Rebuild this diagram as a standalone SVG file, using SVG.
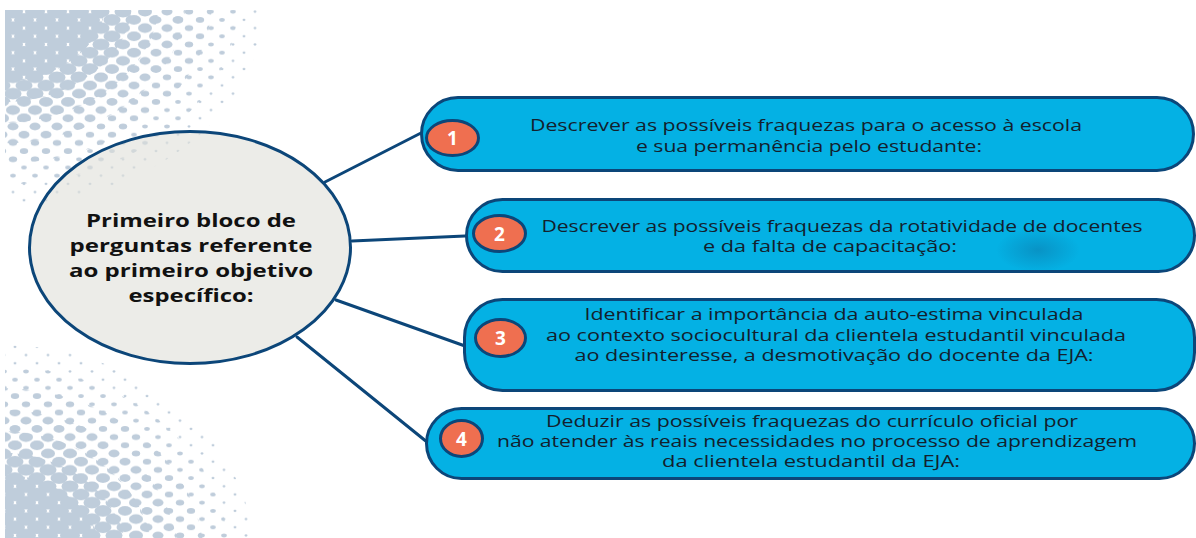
<svg xmlns="http://www.w3.org/2000/svg" width="1196" height="538" viewBox="0 0 1196 538">
<style>
.dot{fill:#bfcddb}
.pill{fill:#04b1e4;stroke:#0c4679;stroke-width:3}
.badge{fill:#ef6f50;stroke:#0c4679;stroke-width:3}
.num{font-family:"Open Sans","Liberation Sans",sans-serif;font-weight:700;font-size:19px;fill:#ffffff;text-anchor:middle}
.txt{font-family:"Open Sans","Liberation Sans",sans-serif;font-size:16px;fill:#13202d;text-anchor:middle}
.ctr{font-family:"Open Sans","Liberation Sans",sans-serif;font-weight:700;font-size:18px;fill:#111111;text-anchor:middle}
.conn{stroke:#0c4679;stroke-width:3;fill:none;stroke-linecap:round}
</style>
<defs>
<pattern id="p1" patternUnits="userSpaceOnUse" x="2" y="3.5" width="22" height="16.4"><g class="dot"><ellipse cx="0" cy="0" rx="1.5" ry="1.1"/><ellipse cx="22" cy="0" rx="1.5" ry="1.1"/><ellipse cx="0" cy="16.4" rx="1.5" ry="1.1"/><ellipse cx="22" cy="16.4" rx="1.5" ry="1.1"/><ellipse cx="11" cy="8.2" rx="1.5" ry="1.1"/></g></pattern>
<pattern id="p2" patternUnits="userSpaceOnUse" x="2" y="3.5" width="22" height="16.4"><g class="dot"><ellipse cx="0" cy="0" rx="2.8" ry="1.9"/><ellipse cx="22" cy="0" rx="2.8" ry="1.9"/><ellipse cx="0" cy="16.4" rx="2.8" ry="1.9"/><ellipse cx="22" cy="16.4" rx="2.8" ry="1.9"/><ellipse cx="11" cy="8.2" rx="2.8" ry="1.9"/></g></pattern>
<pattern id="p3" patternUnits="userSpaceOnUse" x="2" y="3.5" width="22" height="16.4"><g class="dot"><ellipse cx="0" cy="0" rx="4.2" ry="2.9"/><ellipse cx="22" cy="0" rx="4.2" ry="2.9"/><ellipse cx="0" cy="16.4" rx="4.2" ry="2.9"/><ellipse cx="22" cy="16.4" rx="4.2" ry="2.9"/><ellipse cx="11" cy="8.2" rx="4.2" ry="2.9"/></g></pattern>
<pattern id="p4" patternUnits="userSpaceOnUse" x="2" y="3.5" width="22" height="16.4"><g class="dot"><ellipse cx="0" cy="0" rx="5.5" ry="3.8"/><ellipse cx="22" cy="0" rx="5.5" ry="3.8"/><ellipse cx="0" cy="16.4" rx="5.5" ry="3.8"/><ellipse cx="22" cy="16.4" rx="5.5" ry="3.8"/><ellipse cx="11" cy="8.2" rx="5.5" ry="3.8"/></g></pattern>
<pattern id="p5" patternUnits="userSpaceOnUse" x="2" y="3.5" width="22" height="16.4"><g class="dot"><ellipse cx="0" cy="0" rx="7" ry="4.8"/><ellipse cx="22" cy="0" rx="7" ry="4.8"/><ellipse cx="0" cy="16.4" rx="7" ry="4.8"/><ellipse cx="22" cy="16.4" rx="7" ry="4.8"/><ellipse cx="11" cy="8.2" rx="7" ry="4.8"/></g></pattern>
<pattern id="p6" patternUnits="userSpaceOnUse" x="2" y="3.5" width="22" height="16.4"><g class="dot"><ellipse cx="0" cy="0" rx="8.5" ry="5.8"/><ellipse cx="22" cy="0" rx="8.5" ry="5.8"/><ellipse cx="0" cy="16.4" rx="8.5" ry="5.8"/><ellipse cx="22" cy="16.4" rx="8.5" ry="5.8"/><ellipse cx="11" cy="8.2" rx="8.5" ry="5.8"/></g></pattern>
<pattern id="p7" patternUnits="userSpaceOnUse" x="2" y="3.5" width="22" height="16.4"><g class="dot"><ellipse cx="0" cy="0" rx="10" ry="6.8"/><ellipse cx="22" cy="0" rx="10" ry="6.8"/><ellipse cx="0" cy="16.4" rx="10" ry="6.8"/><ellipse cx="22" cy="16.4" rx="10" ry="6.8"/><ellipse cx="11" cy="8.2" rx="10" ry="6.8"/></g></pattern>
<clipPath id="t1"><ellipse cx="0" cy="0" rx="265" ry="205"/></clipPath>
<clipPath id="t2"><ellipse cx="0" cy="0" rx="238.5" ry="184.5"/></clipPath>
<clipPath id="t3"><ellipse cx="0" cy="0" rx="212" ry="164"/></clipPath>
<clipPath id="t4"><ellipse cx="0" cy="0" rx="185.5" ry="143.5"/></clipPath>
<clipPath id="t5"><ellipse cx="0" cy="0" rx="159" ry="123"/></clipPath>
<clipPath id="t6"><ellipse cx="0" cy="0" rx="132.5" ry="102.5"/></clipPath>
<clipPath id="t7"><ellipse cx="0" cy="0" rx="106" ry="82"/></clipPath>
<clipPath id="b1"><ellipse cx="-13" cy="561" rx="255" ry="215"/></clipPath>
<clipPath id="b2"><ellipse cx="-13" cy="561" rx="229.5" ry="193.5"/></clipPath>
<clipPath id="b3"><ellipse cx="-13" cy="561" rx="204" ry="172"/></clipPath>
<clipPath id="b4"><ellipse cx="-13" cy="561" rx="178.5" ry="150.5"/></clipPath>
<clipPath id="b5"><ellipse cx="-13" cy="561" rx="153" ry="129"/></clipPath>
<clipPath id="b6"><ellipse cx="-13" cy="561" rx="127.5" ry="107.5"/></clipPath>
<clipPath id="b7"><ellipse cx="-13" cy="561" rx="102" ry="86"/></clipPath>
<radialGradient id="blob" cx="0.5" cy="0.5" r="0.5">
<stop offset="0" stop-color="#0a86b8" stop-opacity="0.7"/>
<stop offset="1" stop-color="#0a86b8" stop-opacity="0"/>
</radialGradient>
</defs>
<rect width="1196" height="538" fill="#ffffff"/>
<g id="halftone-top">
<rect x="5" y="10" width="265" height="210" fill="url(#p1)" clip-path="url(#t1)"/>
<rect x="5" y="10" width="265" height="210" fill="url(#p2)" clip-path="url(#t2)"/>
<rect x="5" y="10" width="265" height="210" fill="url(#p3)" clip-path="url(#t3)"/>
<rect x="5" y="10" width="265" height="210" fill="url(#p4)" clip-path="url(#t4)"/>
<rect x="5" y="10" width="265" height="210" fill="url(#p5)" clip-path="url(#t5)"/>
<rect x="5" y="10" width="265" height="210" fill="url(#p6)" clip-path="url(#t6)"/>
<rect x="5" y="10" width="265" height="210" fill="url(#p7)" clip-path="url(#t7)"/>
</g>
<g id="halftone-bottom" transform="translate(13,-1)">
<rect x="-8" y="321" width="265" height="218" fill="url(#p1)" clip-path="url(#b1)"/>
<rect x="-8" y="321" width="265" height="218" fill="url(#p2)" clip-path="url(#b2)"/>
<rect x="-8" y="321" width="265" height="218" fill="url(#p3)" clip-path="url(#b3)"/>
<rect x="-8" y="321" width="265" height="218" fill="url(#p4)" clip-path="url(#b4)"/>
<rect x="-8" y="321" width="265" height="218" fill="url(#p5)" clip-path="url(#b5)"/>
<rect x="-8" y="321" width="265" height="218" fill="url(#p6)" clip-path="url(#b6)"/>
<rect x="-8" y="321" width="265" height="218" fill="url(#p7)" clip-path="url(#b7)"/>
</g>
<g id="connectors">
<line class="conn" x1="325" y1="182" x2="421" y2="133"/>
<line class="conn" x1="352" y1="241" x2="465" y2="236"/>
<line class="conn" x1="336" y1="300" x2="465" y2="346"/>
<line class="conn" x1="297" y1="337" x2="427" y2="442"/>
</g>
<g id="center">
<ellipse cx="190" cy="247.5" rx="160.5" ry="116" fill="#e0e0d8" fill-opacity="0.6" stroke="#0c4679" stroke-width="3"/>
<text class="ctr" x="191" y="227" textLength="210" lengthAdjust="spacingAndGlyphs">Primeiro bloco de</text>
<text class="ctr" x="191" y="252" textLength="243" lengthAdjust="spacingAndGlyphs">perguntas referente</text>
<text class="ctr" x="191" y="277" textLength="244" lengthAdjust="spacingAndGlyphs">ao primeiro objetivo</text>
<text class="ctr" x="191" y="302" textLength="125" lengthAdjust="spacingAndGlyphs">específico:</text>
</g>
<g id="node1">
<rect class="pill" x="421.5" y="97.5" width="772" height="73" rx="36.5"/>
<ellipse class="badge" cx="452.5" cy="138" rx="26" ry="17.5"/>
<text class="num" x="452.5" y="145">1</text>
<text class="txt" x="806" y="131" textLength="552" lengthAdjust="spacingAndGlyphs">Descrever as possíveis fraquezas para o acesso à escola</text>
<text class="txt" x="809" y="152" textLength="346" lengthAdjust="spacingAndGlyphs">e sua permanência pelo estudante:</text>
</g>
<g id="node2">
<rect class="pill" x="466.5" y="199.5" width="728" height="72" rx="36"/>
<ellipse cx="1038" cy="250" rx="42" ry="22" fill="url(#blob)"/>
<ellipse class="badge" cx="499.5" cy="233.5" rx="26" ry="18"/>
<text class="num" x="499.5" y="240.5">2</text>
<text class="txt" x="842" y="232" textLength="601" lengthAdjust="spacingAndGlyphs">Descrever as possíveis fraquezas da rotatividade de docentes</text>
<text class="txt" x="830" y="252" textLength="254" lengthAdjust="spacingAndGlyphs">e da falta de capacitação:</text>
</g>
<g id="node3">
<rect class="pill" x="464.5" y="299.5" width="730" height="91" rx="38"/>
<ellipse class="badge" cx="500.5" cy="338" rx="25" ry="18.5"/>
<text class="num" x="500.5" y="345">3</text>
<text class="txt" x="834" y="320" textLength="499" lengthAdjust="spacingAndGlyphs">Identificar a importância da auto-estima vinculada</text>
<text class="txt" x="836" y="341" textLength="580" lengthAdjust="spacingAndGlyphs">ao contexto sociocultural da clientela estudantil vinculada</text>
<text class="txt" x="834" y="361" textLength="519" lengthAdjust="spacingAndGlyphs">ao desinteresse, a desmotivação do docente da EJA:</text>
</g>
<g id="node4">
<rect class="pill" x="426.5" y="408.5" width="768" height="70" rx="35"/>
<ellipse class="badge" cx="461.5" cy="438.5" rx="21" ry="18"/>
<text class="num" x="461.5" y="445.5">4</text>
<text class="txt" x="812" y="427" textLength="532" lengthAdjust="spacingAndGlyphs">Deduzir as possíveis fraquezas do currículo oficial por</text>
<text class="txt" x="817" y="447" textLength="640" lengthAdjust="spacingAndGlyphs">não atender às reais necessidades no processo de aprendizagem</text>
<text class="txt" x="811" y="467" textLength="298" lengthAdjust="spacingAndGlyphs">da clientela estudantil da EJA:</text>
</g>
</svg>
